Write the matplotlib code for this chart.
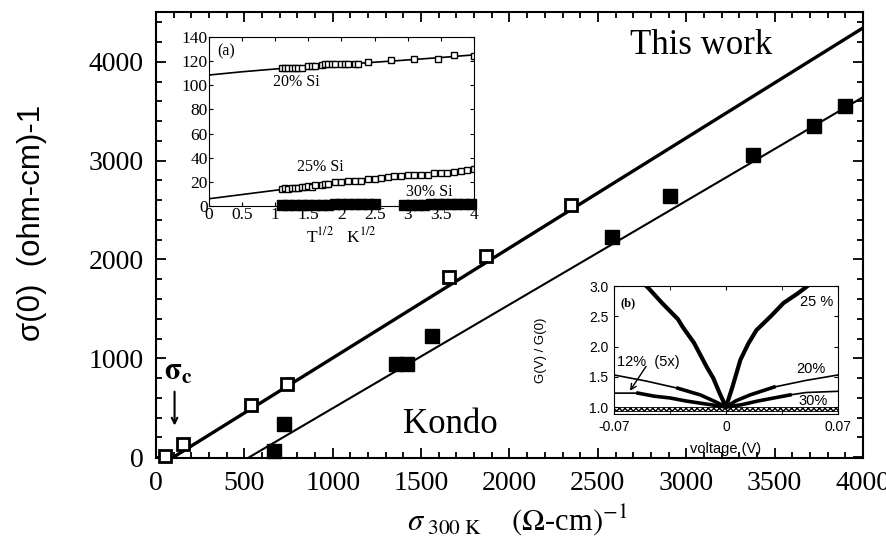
import matplotlib
matplotlib.use("Agg")
import matplotlib.pyplot as plt
import numpy as np
from matplotlib.ticker import MultipleLocator, FixedLocator

plt.rcParams['font.family'] = ['Liberation Serif', 'DejaVu Serif']
plt.rcParams['mathtext.fontset'] = 'stix'

# === MAIN PANEL DATA ===
# open squares: this work
tw_x = [50, 150, 540, 740, 1655, 1865, 2350]
tw_y = [15, 130, 525, 735, 1820, 2035, 2555]
# filled squares: Kondo
ko_x = [665, 725, 1360, 1420, 1560, 2580, 2910, 3380, 3720, 3900]
ko_y = [65, 335, 940, 940, 1230, 2230, 2640, 3060, 3355, 3555]
# fitted straight lines (slope, intercept, start x)
tw_fit = (1.114, -111.0, 100)
ko_fit = (1.050, -556.0, 530)

# === INSET (a) DATA ===
a20_x = [1.10, 1.15, 1.20, 1.25, 1.30, 1.35, 1.40, 1.50, 1.55, 1.60, 1.70, 1.75,
         1.80, 1.85, 1.90, 2.00, 2.05, 2.10, 2.20, 2.25, 2.40, 2.75, 3.10, 3.45,
         3.70, 4.00]
a20_y = [114, 114, 114, 114, 114, 114, 114.5, 116, 116, 116, 117, 118,
         118, 118, 118, 118, 118, 118, 118, 118, 119, 121, 122, 122,
         125, 124]
a20_fit_x = [0, 0.5, 1, 1.5, 2, 2.5, 3, 3.5, 4]
a20_fit_y = [108.5, 111.2, 113.5, 115.5, 117.3, 119.1, 121.0, 123.0, 125.2]

a25_x = [1.10, 1.15, 1.20, 1.25, 1.30, 1.35, 1.40, 1.45, 1.50, 1.55, 1.60, 1.70,
         1.75, 1.80, 1.90, 2.00, 2.10, 2.20, 2.30, 2.40, 2.50, 2.60, 2.70, 2.80,
         2.90, 3.00, 3.10, 3.20, 3.30, 3.40, 3.50, 3.60, 3.70, 3.80, 3.90, 4.00]
a25_y = [14, 14.5, 14, 15, 14.5, 15, 15.5, 16, 16.5, 16, 17, 17.5,
         18, 18.5, 19.5, 20, 20.5, 21, 21, 22, 22.5, 23, 24, 24.5,
         25, 25.5, 25.5, 26, 26, 27, 27, 27.5, 28.5, 29, 30, 31]
a25_fit_x = [0, 0.5, 1, 1.5, 2, 2.5, 3, 3.5, 4]
a25_fit_y = [6, 9.5, 13, 16.3, 19.3, 22, 24.6, 27.2, 30]

a30_x = [1.10, 1.20, 1.30, 1.40, 1.50, 1.60, 1.70, 1.80, 1.90, 2.00, 2.10, 2.20,
         2.30, 2.40, 2.50, 2.95, 3.05, 3.15, 3.25, 3.35, 3.45, 3.55, 3.65, 3.75,
         3.85, 3.95]
a30_y = [0.5, 0.5, 0.5, 0.5, 0.5, 0.5, 0.5, 0.5, 1.5, 1.5, 1.5, 1.5,
         1.5, 1.5, 1.5, 1.0, 1.0, 1.0, 1.0, 2.0, 2.0, 2.0, 2.0, 2.0,
         2.0, 2.0]

# === INSET (b) DATA ===
b25_v = [-0.052, -0.049, -0.04, -0.03, -0.027, -0.02, -0.012, -0.008, -0.004, 0,
         0.004, 0.009, 0.014, 0.019, 0.028, 0.036, 0.045, 0.051]
b25_g = [3.05, 2.98, 2.72, 2.45, 2.32, 2.06, 1.66, 1.48, 1.23, 1.0,
         1.33, 1.78, 2.05, 2.27, 2.50, 2.72, 2.88, 3.0]
b20_v = [-0.07, -0.05, -0.03, -0.016, -0.006, 0, 0.006, 0.015, 0.03, 0.05, 0.07]
b20_g = [1.53, 1.43, 1.31, 1.20, 1.08, 1.0, 1.10, 1.20, 1.33, 1.44, 1.53]
b12_v = [-0.07, -0.055, -0.045, -0.035, -0.025, -0.015, -0.005, 0,
         0.01, 0.02, 0.03, 0.04, 0.05, 0.07]
b12_g = [1.23, 1.23, 1.18, 1.15, 1.10, 1.06, 1.02, 1.0,
         1.04, 1.10, 1.15, 1.20, 1.24, 1.26]
b30_v = [-0.07, 0.07]
b30_g = [0.965, 0.965]

fig = plt.figure(figsize=(8.87, 5.36), dpi=100)

# === MAIN AXES ===
ax = fig.add_axes([156 / 887, 1 - 458 / 536, 707 / 887, 446 / 536])
ax.set_xlim(0, 4000)
ax.set_ylim(-10, 4506)

for (m, b, x0) in (tw_fit, ko_fit):
    xs = np.array([x0, 4000])
    ax.plot(xs, m * xs + b, color='black',
            lw=2.4 if x0 == tw_fit[2] else 1.5, zorder=2)

ax.plot(tw_x, tw_y, 's', ms=9, mfc='white', mec='black', mew=2.0, zorder=3,
        clip_on=False)
ax.plot(ko_x, ko_y, 's', ms=10, mfc='black', mec='black', zorder=3, clip_on=False)

ax.xaxis.set_major_locator(MultipleLocator(500))
ax.xaxis.set_minor_locator(MultipleLocator(100))
ax.yaxis.set_major_locator(MultipleLocator(1000))
ax.yaxis.set_minor_locator(MultipleLocator(200))
ax.tick_params(which='both', direction='in', top=True, right=True, width=1.3)
ax.tick_params(which='major', length=7, labelsize=20, pad=9)
ax.tick_params(which='minor', length=4)
for s in ax.spines.values():
    s.set_linewidth(1.5)

ax.text(3085, 4170, 'This work', fontsize=25, ha='center', va='center')
ax.text(1400, 334, 'Kondo', fontsize=25, ha='left', va='center')
ax.text(45, 860, r'$\mathbf{\sigma_c}$', fontsize=22, ha='left', va='center')
ax.annotate('', xy=(105, 290), xytext=(105, 690),
            arrowprops=dict(arrowstyle='->', lw=1.5, color='black'))

fig.text(32 / 887, 1 - 223 / 536, u'\u03c3(0)  (ohm-cm)-1', rotation=90,
         ha='center', va='center', fontsize=22.5, family=['Liberation Sans', 'DejaVu Sans'])
fig.text(517 / 887, 1 - 520 / 536,
         r'$\sigma_{\ 300\ \mathrm{K}}$    $(\Omega$-cm$)^{-1}$',
         ha='center', va='center', fontsize=22)

# === INSET (a) ===
axa = fig.add_axes([209 / 887, 1 - 206 / 536, 265 / 887, 169 / 536])
axa.set_xlim(0, 4)
axa.set_ylim(0, 140)
axa.plot(a20_fit_x, a20_fit_y, color='black', lw=1.2)
axa.plot(a25_fit_x, a25_fit_y, color='black', lw=1.2)
axa.plot(a20_x, a20_y, 's', ms=4.5, mfc='white', mec='black', mew=1.0)
axa.plot(a25_x, a25_y, 's', ms=4.5, mfc='white', mec='black', mew=1.0)
axa.plot(a30_x, a30_y, 's', ms=6.5, mfc='black', mec='black', clip_on=False)
axa.xaxis.set_major_locator(MultipleLocator(0.5))
axa.yaxis.set_major_locator(MultipleLocator(20))
axa.xaxis.set_major_formatter(plt.FuncFormatter(lambda v, p: f'{v:g}'))
axa.tick_params(which='both', direction='in', top=True, right=True,
                labelsize=12.5, length=3, pad=1)
axa.set_xlabel(r'T$^{1/2}$   K$^{1/2}$', fontsize=12.5, labelpad=2)
axa.text(0.12, 128, '(a)', fontsize=11.5, va='center')
axa.text(0.97, 103, '20% Si', fontsize=11.5, va='center')
axa.text(1.33, 32, '25% Si', fontsize=11.5, va='center')
axa.text(2.98, 11.5, '30% Si', fontsize=11.5, va='center')

# === INSET (b) ===
sans = ['Liberation Sans', 'DejaVu Sans']
axb = fig.add_axes([614 / 887, 1 - 414 / 536, 224 / 887, 128 / 536])
axb.set_xlim(-0.07, 0.07)
axb.set_ylim(0.885, 3.0)
axb.fill_between(b30_v, np.array(b30_g) - 0.035, np.array(b30_g) + 0.035,
                 facecolor='white', edgecolor='black', hatch='xxxxxx', lw=0.6)
axb.plot(b20_v, b20_g, color='black', lw=1.2)
axb.plot(b12_v, b12_g, color='black', lw=1.2)
v20 = np.array(b20_v)
g20 = np.array(b20_g)
inner = np.abs(v20) <= 0.045
axb.plot(v20[inner], g20[inner], color='black', lw=2.6)
v12 = np.array(b12_v)
g12 = np.array(b12_g)
inner12 = (v12 >= -0.055) & (v12 <= 0.045)
axb.plot(v12[inner12], g12[inner12], color='black', lw=2.6)
axb.plot(b25_v, b25_g, color='black', lw=3.0)

axb.xaxis.set_major_locator(FixedLocator([-0.07, 0, 0.07]))
axb.xaxis.set_minor_locator(MultipleLocator(0.035))
axb.yaxis.set_major_locator(MultipleLocator(0.5))
axb.xaxis.set_major_formatter(plt.FuncFormatter(lambda v, p: '0' if abs(v) < 1e-9 else f'{v:.2f}'))
axb.yaxis.set_major_formatter(plt.FuncFormatter(lambda v, p: f'{v:.1f}'))
axb.tick_params(which='both', direction='in', top=True, right=True, length=3,
                labelsize=10, pad=4)
for lab in axb.get_xticklabels() + axb.get_yticklabels():
    lab.set_family(sans)
axb.set_xlabel('voltage (V)', fontsize=10.5, family=sans)
axb.set_ylabel('G(V) / G(0)', fontsize=9.5, family=sans)
axb.xaxis.set_label_coords(0.5, -0.22)
axb.yaxis.set_label_coords(-0.30, 0.5)
axb.text(-0.066, 2.72, '(b)', fontsize=9, fontweight='bold', va='center')
axb.text(0.046, 2.73, '25 %', fontsize=10.5, va='center', family=sans)
axb.text(0.044, 1.63, '20%', fontsize=10.5, va='center', family=sans)
axb.text(0.045, 1.10, '30%', fontsize=10.5, va='center', family=sans)
axb.text(-0.068, 1.74, '12%  (5x)', fontsize=10.5, va='center', family=sans)
axb.annotate('', xy=(-0.061, 1.23), xytext=(-0.049, 1.71),
             arrowprops=dict(arrowstyle='->', lw=1.0, color='black'))

fig.savefig('out.png', dpi=100)
